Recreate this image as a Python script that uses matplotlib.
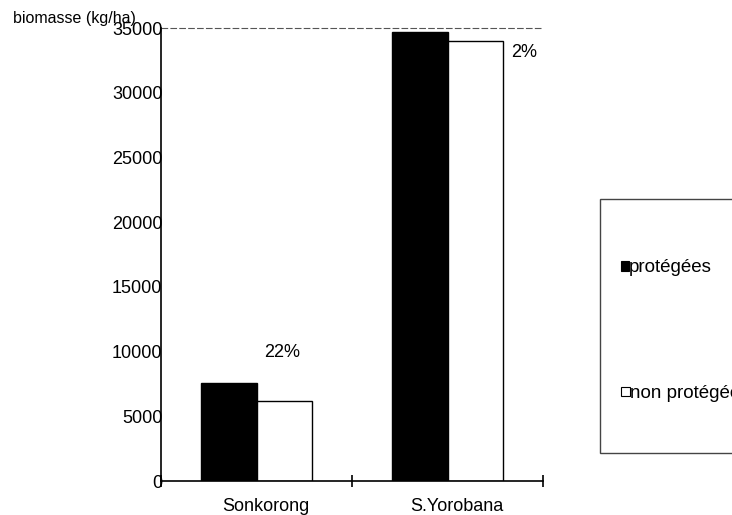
import matplotlib.pyplot as plt
from matplotlib.patches import Rectangle

plt.rcParams['font.family'] = ['Liberation Sans', 'DejaVu Sans']

# biomasse moyenne par site
sites = ["Sonkorong", "S.Yorobana"]
protegees = [7600, 34700]
non_protegees = [6200, 34000]
ecarts = ["22%", "2%"]

fig = plt.figure(figsize=(7.32, 5.15), dpi=100)
ax = fig.add_axes([0.22, 0.066, 0.5218, 0.8796])

w = 0.293
centres = [i + 0.5 for i in range(len(sites))]
ax.bar([c - w / 2 for c in centres], protegees, width=w, color="black",
       edgecolor="black", linewidth=1)
ax.bar([c + w / 2 for c in centres], non_protegees, width=w, color="white",
       edgecolor="black", linewidth=1)

# pourcentages d'écart au-dessus des groupes
ax.text(0.634, 9900, ecarts[0], ha="center", va="center", fontsize=13)
ax.text(1.90, 33100, ecarts[1], ha="center", va="center", fontsize=13)

ax.set_xlim(0, 2)
ax.set_ylim(0, 35000)
ax.set_yticks(range(0, 35001, 5000))
ax.tick_params(axis="y", length=0, pad=-1, labelsize=13)
ax.set_xticks([0, 1, 2])
ax.set_xticklabels([])
ax.tick_params(axis="x", which="major", direction="inout", length=9, width=1.2)
ax.set_xticks([c + 0.05 for c in centres], minor=True)
ax.set_xticklabels(sites, minor=True)
ax.tick_params(axis="x", which="minor", length=0, pad=12, labelsize=13)

ax.spines["right"].set_visible(False)
ax.spines["top"].set_visible(False)
ax.spines["left"].set_linewidth(1.2)
ax.spines["bottom"].set_linewidth(1.2)
ax.axhline(35000, color="#555555", linestyle=(0, (6, 2)), linewidth=0.8, clip_on=False)

fig.text(13 / 732, 1 - 18 / 515, "biomasse (kg/ha)", ha="left", va="center", fontsize=11.5)

# légende dessinée à la main, coupée par le bord droit
fig.patches.append(Rectangle((600 / 732, 62 / 515), 0.3, 254 / 515,
                             transform=fig.transFigure, facecolor="white",
                             edgecolor="#444444", linewidth=1))
fig.patches.append(Rectangle((621 / 732, 1 - 271 / 515), 8 / 732, 10 / 515,
                             transform=fig.transFigure, facecolor="black",
                             edgecolor="black", linewidth=0.8))
fig.text(629 / 732, 1 - 268 / 515, "protégées", ha="left", va="center", fontsize=13.5)
fig.patches.append(Rectangle((621 / 732, 1 - 396 / 515), 9 / 732, 9 / 515,
                             transform=fig.transFigure, facecolor="white",
                             edgecolor="black", linewidth=0.8))
fig.text(630 / 732, 1 - 393 / 515, "non protégées", ha="left", va="center", fontsize=13.5)

fig.savefig("out.png", dpi=100)
